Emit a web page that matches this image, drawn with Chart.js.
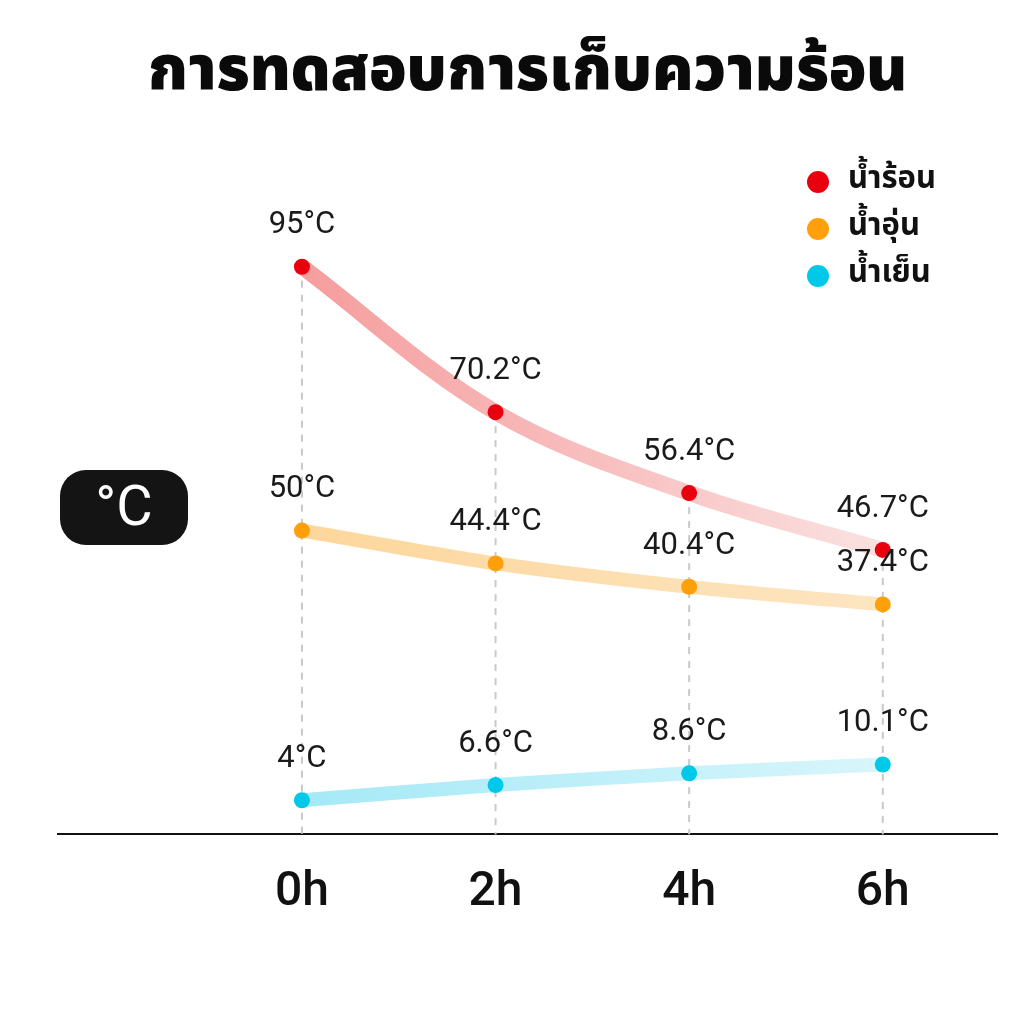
<!DOCTYPE html>
<html>
<head>
<meta charset="utf-8">
<script src="https://cdn.jsdelivr.net/npm/chart.js@4"></script>
<style>
  html, body { margin: 0; padding: 0; background: #fff; }
  #wrap { width: 1024px; height: 1024px; }
</style>
</head>
<body>
<div id="wrap"><canvas id="heatChart" width="1024" height="1024"></canvas></div>
<script>
// hours on the x axis and their tick labels
const hours = [0, 2, 4, 6];
const hourLabels = ['0h', '2h', '4h', '6h'];

// temperatures (°C)
const hotWater = [95, 70.2, 56.4, 46.7];
const warmWater = [50, 44.4, 40.4, 37.4];
const coldWater = [4, 6.6, 8.6, 10.1];

const seriesNames = ['น้ำร้อน', 'น้ำอุ่น', 'น้ำเย็น'];

const thaiFont = '"Noto Sans Thai", "Noto Sans", "DejaVu Sans", sans-serif';

function toPoints(values) {
    return values.map((v, i) => ({ x: hours[i], y: v }));
}

// line colour fades from left to right
function fade(from, to) {
    return function(context) {
        const chart = context.chart;
        if (!chart.chartArea) return from;
        const x = chart.scales.x;
        const g = chart.ctx.createLinearGradient(x.getPixelForValue(hours[0]), 0, x.getPixelForValue(hours[hours.length - 1]), 0);
        g.addColorStop(0, from);
        g.addColorStop(1, to);
        return g;
    };
}

// dashed drop lines from the highest point of each hour down to the axis
const dropLines = {
    id: 'dropLines',
    beforeDatasetsDraw(chart) {
        const ctx = chart.ctx;
        const x = chart.scales.x, y = chart.scales.y;
        ctx.save();
        ctx.strokeStyle = '#c9c9c9';
        ctx.lineWidth = 2;
        ctx.setLineDash([7, 7]);
        hours.forEach((h, i) => {
            const top = Math.max(hotWater[i], warmWater[i], coldWater[i]);
            const px = x.getPixelForValue(h);
            ctx.beginPath();
            ctx.moveTo(px, y.getPixelForValue(top) + 14);
            ctx.lineTo(px, chart.chartArea.bottom);
            ctx.stroke();
        });
        ctx.restore();
    }
};

// value labels, °C badge and legend
const extras = {
    id: 'extras',
    afterDatasetsDraw(chart) {
        const ctx = chart.ctx;
        const area = chart.chartArea;
        ctx.save();

        // value labels above every point
        ctx.fillStyle = '#1a1a1a';
        ctx.font = '400 31px Roboto, "Open Sans", sans-serif';
        ctx.textAlign = 'center';
        ctx.textBaseline = 'middle';
        chart.data.datasets.forEach((ds, di) => {
            const meta = chart.getDatasetMeta(di);
            meta.data.forEach((pt, i) => {
                ctx.fillText(ds.data[i].y + '°C', pt.x, pt.y - 41);
            });
        });

        // °C badge
        const bx = area.left + 2, by = 470, bw = 128, bh = 75, r = 26;
        ctx.fillStyle = '#141414';
        ctx.beginPath();
        ctx.roundRect(bx, by, bw, bh, r);
        ctx.fill();
        ctx.fillStyle = '#ffffff';
        ctx.font = '400 56px Roboto, "Open Sans", sans-serif';
        ctx.fillText('°C', bx + bw / 2, by + bh / 2 + 3);

        // legend, top right
        ctx.textAlign = 'left';
        ctx.font = '700 31px ' + thaiFont;
        chart.data.datasets.forEach((ds, di) => {
            const cy = 182 + di * 47;
            const cx = area.right - 179;
            ctx.fillStyle = ds.pointBackgroundColor;
            ctx.beginPath();
            ctx.arc(cx, cy, 11, 0, Math.PI * 2);
            ctx.fill();
            ctx.fillStyle = '#111111';
            ctx.fillText(ds.label, cx + 30, cy);
        });

        ctx.restore();
    }
};

const ctx = document.getElementById('heatChart').getContext('2d');
const heatChart = new Chart(ctx, {
    type: 'line',
    data: {
        datasets: [
            {
                label: seriesNames[0],
                data: toPoints(hotWater),
                borderColor: fade('rgba(244,140,140,0.85)', 'rgba(250,222,222,0.9)'),
                borderWidth: 16,
                tension: 0.35,
                pointBackgroundColor: '#e8000e',
                pointBorderWidth: 0,
                pointRadius: 8
            },
            {
                label: seriesNames[1],
                data: toPoints(warmWater),
                borderColor: fade('rgba(253,212,150,0.95)', 'rgba(253,228,190,0.95)'),
                borderWidth: 14,
                tension: 0.25,
                pointBackgroundColor: '#ffa00a',
                pointBorderWidth: 0,
                pointRadius: 8
            },
            {
                label: seriesNames[2],
                data: toPoints(coldWater),
                borderColor: fade('rgba(160,232,246,0.95)', 'rgba(214,245,251,0.95)'),
                borderWidth: 14,
                tension: 0.25,
                pointBackgroundColor: '#00c8e8',
                pointBorderWidth: 0,
                pointRadius: 8
            }
        ]
    },
    options: {
        responsive: false,
        animation: false,
        layout: { padding: { left: 58, right: 27, top: 0, bottom: 80 } },
        plugins: {
            legend: { display: false },
            tooltip: { enabled: false },
            title: {
                display: true,
                text: 'การทดสอบการเก็บความร้อน',
                color: '#0a0a0a',
                font: { family: thaiFont, size: 62, weight: '900' },
                padding: { top: 40, bottom: 36 }
            }
        },
        scales: {
            x: {
                type: 'linear',
                min: -2.52,
                max: 7.18,
                afterBuildTicks(scale) {
                    scale.ticks = hours.map(h => ({ value: h }));
                },
                grid: { display: false },
                border: { display: true, color: '#111111', width: 2 },
                ticks: {
                    color: '#111111',
                    padding: 22,
                    font: { family: 'Roboto', size: 48, weight: '500' },
                    callback: (v) => hourLabels[hours.indexOf(v)]
                }
            },
            y: {
                display: false,
                min: -1.82,
                max: 114.84
            }
        }
    },
    plugins: [dropLines, extras]
});
</script>
</body>
</html>
